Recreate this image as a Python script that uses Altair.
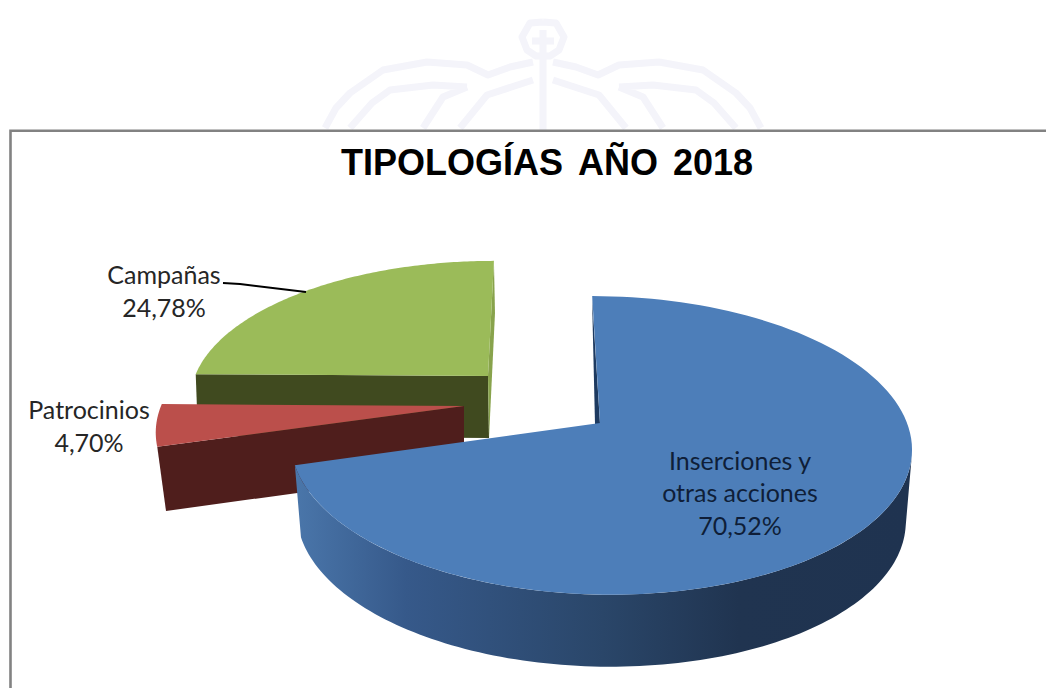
import numpy as np
import pandas as pd
import altair as alt

# ---- chart values ----
categories = ["Inserciones y otras acciones", "Patrocinios", "Campañas"]
shares = [70.52, 4.70, 24.78]
title_words = ["TIPOLOGÍAS", "AÑO", "2018"]
label_lines = ["Campañas", "24,78%", "Patrocinios", "4,70%", "Inserciones y", "otras acciones", "70,52%"]

BLUE, RED, GREEN = "#4d7eb9", "#bb4f4b", "#9bbb59"
RED_DARK, GREEN_DARK, GREEN_SIDE, BLUE_INNER = "#4f1e1c", "#404a1f", "#88a34c", "#1d3a60"
WATERMARK = "#f4f4fa"
BORDER = "#828282"

# angular extent of each slice, clockwise from 12 o'clock, from the shares
ends = np.cumsum(shares) / sum(shares) * 360.0
starts = np.concatenate([[0.0], ends[:-1]])


def arc(theta_a, theta_b, px, py, r, q, p, c=0.15):
    """Perspective view of the rim of a pie slice between two angles."""
    t = np.radians(np.linspace(theta_a, theta_b, 120))
    u, v = np.sin(t), np.cos(t)
    d = 1 + c * v
    return np.column_stack([(px + r * u + q * v) / d, (py + p * v) / d])


def poly(points):
    pts = [[float(x), float(y)] for x, y in points]
    pts.append(pts[0])
    return {"type": "Feature", "properties": {}, "geometry": {"type": "Polygon", "coordinates": [pts]}}


def lines(*paths):
    return {"type": "Feature", "properties": {},
            "geometry": {"type": "MultiLineString", "coordinates": [[list(map(float, p)) for p in path] for path in paths]}}


def shape(feature, **kw):
    return alt.Chart(alt.Data(values=[feature])).mark_geoshape(**kw)


def fill(feature, colour):
    return shape(feature, fill=colour, strokeWidth=0)


# blue slice
bp = (600, 423)
blue_rim = arc(starts[0], ends[0], *bp, r=307, q=81, p=-82.5)
blue_wall_top = arc(103, ends[0], *bp, r=307, q=81, p=-82.5)
blue_wall_bot = np.column_stack([bp[0] + (blue_wall_top[:, 0] - bp[0]) * 0.98, blue_wall_top[:, 1] + 72])
blue_top = poly([bp, *blue_rim])
blue_wall = poly([*blue_wall_top, *blue_wall_bot[::-1]])
blue_inner = poly([(592, 297), (595, 424), (600, 424)])

# red slice
rp = (464, 406)
red_rim = arc(starts[1], ends[1], *rp, r=303, q=80, p=-80)
red_top = poly([rp, *red_rim])
red_wall = poly([rp, red_rim[0], (166, 511), (464, 470)])

# green slice
gp = (488, 376)
green_rim = arc(starts[2], ends[2], *gp, r=293, q=80, p=-76)
green_top = poly([gp, *green_rim])
green_wall = poly([gp, green_rim[0], (198, 436), (489, 438)])
green_side = poly([green_rim[-1], (495, 313), (489, 438), gp])

# decorative frame, faint logo behind the chart and leader line
frame = lines([(10.5, 702), (10.5, 130.7), (1056, 130.7)])
leader = lines([(223, 283), (240, 284), (306, 292)])
logo_left = [
    [(325, 128), (336, 108), (350, 93), (383, 70), (427, 62), (467, 65), (488, 75), (510, 67), (533, 62)],
    [(350, 128), (372, 103), (390, 90), (433, 85), (467, 87)],
    [(423, 128), (443, 97), (467, 87)],
    [(460, 128), (487, 95), (533, 80)],
]
logo = lines(*logo_left, *[[(1086 - x, y) for x, y in path] for path in logo_left],
             [(543, 30), (543, 130)],
             [(532, 41), (554, 41)],
             [(543, 22), (530, 23), (522, 37), (527, 50), (536, 56), (550, 56), (559, 50), (564, 37), (556, 23), (543, 22)])

wall_gradient = alt.LinearGradient(
    gradient="linear", x1=0, x2=1, y1=0, y2=0,
    stops=[alt.GradientStop(color="#4a76aa", offset=0),
           alt.GradientStop(color="#36598a", offset=0.18),
           alt.GradientStop(color="#2a4669", offset=0.5),
           alt.GradientStop(color="#203450", offset=0.72),
           alt.GradientStop(color="#1f3350", offset=1)])

layers = [
    shape(logo, filled=False, stroke=WATERMARK, strokeWidth=7, strokeJoin="round"),
    shape(frame, filled=False, stroke=BORDER, strokeWidth=2.6),
    fill(green_wall, GREEN_DARK),
    fill(green_side, GREEN_SIDE),
    fill(green_top, GREEN),
    fill(red_wall, RED_DARK),
    fill(red_top, RED),
    fill(blue_inner, BLUE_INNER),
    shape(blue_wall, fill=wall_gradient, strokeWidth=0),
    fill(blue_top, BLUE),
    shape(leader, filled=False, stroke="#000000", strokeWidth=2),
]

map_layer = alt.layer(*layers).project(type="identity", scale=1, translate=[-8, -8])

labels = pd.DataFrame({
    "text": label_lines,
    "x": [164, 164, 89, 89, 740, 740, 740],
    "y": [276, 309, 411, 444, 462, 494, 527],
    "colour": ["#262626"] * 4 + ["#0f1e38"] * 3,
})
labels[["x", "y"]] -= 8

label_layer = alt.Chart(labels).mark_text(font="Lato", fontSize=25, align="center", baseline="middle").encode(
    x=alt.X("x:Q", scale=None), y=alt.Y("y:Q", scale=None),
    text="text:N", color=alt.Color("colour:N", scale=None))

title_df = pd.DataFrame({"text": title_words, "x": [452 - 8, 618 - 8, 713 - 8], "y": [163.5 - 8] * 3})
title_layer = alt.Chart(title_df).mark_text(
    font="Liberation Sans", fontWeight="bold", fontSize=36, align="center", baseline="middle", color="#000000"
).encode(x=alt.X("x:Q", scale=None), y=alt.Y("y:Q", scale=None), text="text:N")

chart = alt.layer(map_layer, label_layer, title_layer).properties(
    width=1038, height=680, padding=0, autosize=alt.AutoSizeParams(type="none"), background="#ffffff"
).configure_view(stroke=None)

chart.save("out.html", embed_options={"renderer": "svg", "actions": False})
